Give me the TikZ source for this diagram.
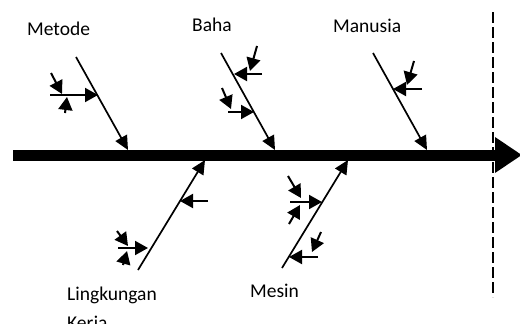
\documentclass[tikz,border=0pt]{standalone}
\usepackage{fontspec}
\setmainfont{Carlito}
\usetikzlibrary{arrows.meta}
\begin{document}
\begin{tikzpicture}[x=1pt,y=-1pt,
  branch/.style={line width=1.7pt,-{Triangle[length=14pt,width=13pt]}},
  sub/.style={line width=2pt,-{Triangle[length=13pt,width=14pt]}},
  lbl/.style={font=\fontsize{19.5}{29}\selectfont,inner sep=0pt,anchor=base west}]
\useasboundingbox (0,0) rectangle (520,324);
\clip (0,0) rectangle (520,324);
% spine and dashed boundary
\coordinate (S0) at (13,155);
\coordinate (S1) at (522,155);
\coordinate (D0) at (493,12);
\coordinate (D1) at (493,297);
\draw[line width=11pt,-{Triangle[length=27pt,width=34pt]}] (S0) -- (S1);
\draw[line width=1.2pt,dash pattern=on 11pt off 4pt] (D0) -- (D1);
% labels
\node[lbl] (tM) at (27,35) {Metode};
\node[lbl] (tB) at (192,31) {Baha};
\node[lbl] (tN) at (333,32) {Manusia};
\node[lbl,align=left] (tL) at (67,329) {Lingkungan\\Kerja};
\node[lbl] (tE) at (250,297) {Mesin};
% Metode
\coordinate (M0) at (76,57);  \coordinate (M1) at (128,150);
\coordinate (Ma0) at (50,95); \coordinate (Ma1) at (98,95);
\coordinate (Mb0) at (51,73); \coordinate (Mb1) at (62,94);
\coordinate (Mc0) at (65,113);\coordinate (Mc1) at (67,97);
\draw[branch] (M0) -- (M1);
\draw[sub] (Ma0) -- (Ma1);
\draw[sub] (Mb0) -- (Mb1);
\draw[sub] (Mc0) -- (Mc1);
% Baha
\coordinate (B0) at (221,53); \coordinate (B1) at (275,150);
\coordinate (Ba0) at (262,74);\coordinate (Ba1) at (234,74);
\coordinate (Bb0) at (257,46);\coordinate (Bb1) at (250,71);
\coordinate (Bc0) at (228,112);\coordinate (Bc1) at (254,112);
\coordinate (Bd0) at (222,88);\coordinate (Bd1) at (231,109);
\draw[branch] (B0) -- (B1);
\draw[sub] (Ba0) -- (Ba1);
\draw[sub] (Bb0) -- (Bb1);
\draw[sub] (Bc0) -- (Bc1);
\draw[sub] (Bd0) -- (Bd1);
% Manusia
\coordinate (N0) at (373,53); \coordinate (N1) at (427,150);
\coordinate (Na0) at (422,89);\coordinate (Na1) at (393,89);
\coordinate (Nb0) at (414,61);\coordinate (Nb1) at (407,85);
\draw[branch] (N0) -- (N1);
\draw[sub] (Na0) -- (Na1);
\draw[sub] (Nb0) -- (Nb1);
% Lingkungan Kerja
\coordinate (L0) at (138,270); \coordinate (L1) at (205,160);
\coordinate (La0) at (208,201);\coordinate (La1) at (180,201);
\coordinate (Lb0) at (118,248);\coordinate (Lb1) at (148,248);
\coordinate (Lc0) at (117,231);\coordinate (Lc1) at (128,246);
\coordinate (Ld0) at (123,265);\coordinate (Ld1) at (127,251);
\draw[branch] (L0) -- (L1);
\draw[sub] (La0) -- (La1);
\draw[sub] (Lb0) -- (Lb1);
\draw[sub] (Lc0) -- (Lc1);
\draw[sub] (Ld0) -- (Ld1);
% Mesin
\coordinate (E0) at (282,268); \coordinate (E1) at (348,160);
\coordinate (Ea0) at (290,202);\coordinate (Ea1) at (322,202);
\coordinate (Eb0) at (288,176);\coordinate (Eb1) at (301,198);
\coordinate (Ec0) at (289,224);\coordinate (Ec1) at (300,205);
\coordinate (Ed0) at (318,257);\coordinate (Ed1) at (289,257);
\coordinate (Ee0) at (321,232);\coordinate (Ee1) at (312,252);
\draw[branch] (E0) -- (E1);
\draw[sub] (Ea0) -- (Ea1);
\draw[sub] (Eb0) -- (Eb1);
\draw[sub] (Ec0) -- (Ec1);
\draw[sub] (Ed0) -- (Ed1);
\draw[sub] (Ee0) -- (Ee1);
\end{tikzpicture}
\end{document}
